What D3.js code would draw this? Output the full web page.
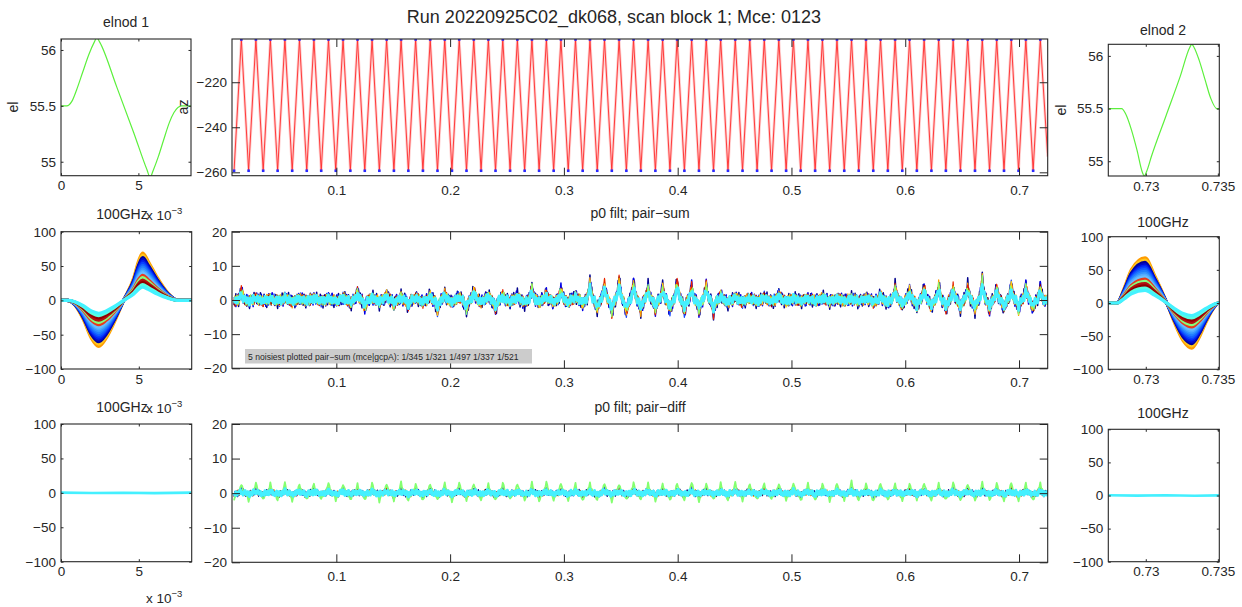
<!DOCTYPE html>
<html>
<head>
<meta charset="utf-8">
<script src="https://cdn.jsdelivr.net/npm/d3@7"></script>
<style>
  body { margin: 0; background: #fff; }
  svg text { font-family: "Liberation Sans", Arial, Helvetica, sans-serif; fill: #262626; }
</style>
</head>
<body>
<svg id="fig" width="1242" height="607"></svg>
<script>
// ---------------- data ----------------
const runTitle = "Run 20220925C02_dk068, scan block 1; Mce: 0123";
const noisiestText = "5 noisiest plotted pair\u2212sum (mce|gcpA):  1/345 1/321 1/497 1/337 1/521";

// elnod 1 (time in units of 1e-3) and elevation
const elnod1Time = [0, 0.37, 0.7, 1.0, 1.4, 1.8, 2.15, 2.31, 2.5, 3.6, 4.7, 5.55, 5.76, 5.95, 6.3, 6.62, 7.0, 7.3, 7.8, 8.4];
const elnod1El   = [55.5, 55.5, 55.54, 55.64, 55.80, 55.96, 56.07, 56.11, 56.07, 55.67, 55.26, 54.93, 54.86, 54.92, 55.05, 55.19, 55.35, 55.44, 55.5, 55.5];

// elnod 2
const elnod2Time = [0.7274, 0.72833, 0.7286, 0.7290, 0.7294, 0.72975, 0.72990, 0.73005, 0.7304, 0.7314, 0.7324, 0.73305, 0.73319, 0.73335, 0.7337, 0.7341, 0.7345, 0.73493, 0.7351];
const elnod2El   = [55.5, 55.5, 55.45, 55.3, 55.1, 54.9, 54.86, 54.9, 55.05, 55.43, 55.81, 56.08, 56.11, 56.08, 55.96, 55.78, 55.6, 55.5, 55.5];

// pair-sum elnod response of the strongest channel
const resp1Time  = [0, 0.4, 0.9, 1.44, 1.95, 2.43, 2.9, 3.4, 4.03, 4.68, 5.0, 5.25, 5.6, 6.19, 6.86, 7.5, 8.4];
const resp1Value = [0, 0, -7, -28, -55, -67, -55, -33, 0, 33, 58, 69, 57, 33, 11, 0, 0];
const resp2Time  = [0.7274, 0.7280, 0.7285, 0.7290, 0.72995, 0.7306, 0.73146, 0.7320, 0.7326, 0.73319, 0.7337, 0.7342, 0.7347, 0.73503, 0.7351];
const resp2Value = [0, 0, 22, 50, 68, 42, 0, -30, -57, -68, -52, -28, -8, 0, 0];
// relative elnod gain of each plotted channel
const respGain = [1.0, 0.95, 0.9, 0.86, 0.82, 0.78, 0.74, 0.7, 0.66, 0.62, 0.58, 0.53, 0.48, 0.43, 0.38, 0.33, 0.28];

// pair-diff elnod response (flat)
const dresp1Time  = [0, 2, 4, 6, 8.4];
const dresp1Value = [0.4, -0.3, 0.2, -0.4, 0.3];
const dresp2Time  = [0.7274, 0.7294, 0.7314, 0.7334, 0.7351];
const dresp2Value = [0.3, -0.2, 0.4, -0.3, 0.2];

// azimuth scan turnarounds
const azTopTime = [0.0165, 0.0293, 0.0420, 0.0548, 0.0676, 0.0803, 0.0931, 0.1059, 0.1186, 0.1314, 0.1442, 0.1569, 0.1697, 0.1825,
  0.1953, 0.2080, 0.2208, 0.2336, 0.2463, 0.2591, 0.2719, 0.2846, 0.2974, 0.3102, 0.3229, 0.3357, 0.3485, 0.3612, 0.3740,
  0.3868, 0.3995, 0.4123, 0.4251, 0.4378, 0.4506, 0.4634, 0.4761, 0.4889, 0.5017, 0.5145, 0.5272, 0.5400, 0.5528, 0.5655,
  0.5783, 0.5911, 0.6038, 0.6166, 0.6294, 0.6421, 0.6549, 0.6677, 0.6804, 0.6932, 0.7060, 0.7187];
const azBottomTime = [0.0101, 0.0229, 0.0357, 0.0484, 0.0612, 0.0740, 0.0867, 0.0995, 0.1123, 0.1250, 0.1378, 0.1506, 0.1633, 0.1761,
  0.1889, 0.2016, 0.2144, 0.2272, 0.2399, 0.2527, 0.2655, 0.2782, 0.2910, 0.3038, 0.3165, 0.3293, 0.3421, 0.3549, 0.3676,
  0.3804, 0.3932, 0.4059, 0.4187, 0.4315, 0.4442, 0.4570, 0.4698, 0.4825, 0.4953, 0.5081, 0.5208, 0.5336, 0.5464, 0.5591,
  0.5719, 0.5847, 0.5974, 0.6102, 0.6230, 0.6357, 0.6485, 0.6613, 0.6741, 0.6868, 0.6996, 0.7124];
const azHigh = -201.0, azLow = -259.3;
const azEndTime = 0.7252, azEndValue = -253;

// pair-sum scan-synchronous common mode at each turnaround
const sumPeak = [3.0, 0.8, 0.5, 0.8, 0.5, 1.0, 0.6, 0.8, 3.0, 1.0, 2.0, 1.0, 1.0, 1.5, 2.0, 1.2, 3.5, 1.5, 1.5, 1.5,
  4.0, 2.0, 3.5, 1.5, 6.0, 5.5, 7.0, 6.0, 4.3, 4.3, 6.5, 4.3, 5.0, 1.5, 1.2, 0.8, 1.2, 2.0, 0.6, 0.6,
  1.0, 0.5, 0.5, 0.8, 1.5, 4.5, 3.5, 4.5, 5.0, 4.0, 4.5, 7.0, 4.0, 5.0, 4.5, 4.0];
const sumTrough = [-0.5, -0.8, -0.5, -0.5, -0.8, -0.5, -0.5, -0.6, -1.5, -3.2, -1.0, -1.8, -2.2, -1.0, -4.0, -1.0, -4.0, -1.0, -3.5, -1.0,
  -1.5, -1.0, -1.0, -1.0, -1.2, -3.5, -4.5, -4.5, -3.8, -3.3, -4.2, -4.5, -3.8, -4.5, -1.2, -1.0, -0.8, -0.8, -1.0, -0.5,
  -0.6, -0.5, -0.5, -0.6, -1.0, -1.5, -2.2, -2.8, -3.2, -3.6, -3.2, -3.6, -3.6, -3.2, -3.6, -3.2];

// pair-diff scan-synchronous common mode at each turnaround
const diffPeak = [2.6, 3.0, 2.7, 2.9, 2.5, 2.8, 3.1, 2.7, 2.6, 2.9, 2.8, 3.0, 2.6, 2.7, 2.9, 3.1, 2.8, 2.6, 3.0, 2.7,
  2.9, 3.2, 2.8, 2.6, 2.9, 3.0, 2.7, 3.1, 2.8, 2.6, 2.9, 3.2, 2.7, 2.8, 3.0, 2.6, 2.9, 2.7, 3.1, 2.8,
  2.6, 3.0, 3.3, 2.7, 2.9, 2.6, 2.8, 3.0, 2.7, 3.1, 2.6, 2.9, 2.8, 3.0, 2.7, 2.9];
const diffTrough = [-2.0, -2.2, -1.9, -2.1, -2.3, -2.0, -1.8, -2.2, -2.1, -1.9, -2.3, -2.0, -2.2, -2.1, -1.9, -2.4, -2.0, -2.1, -2.2, -1.8,
  -2.1, -2.3, -2.0, -1.9, -2.2, -2.1, -2.4, -2.0, -1.9, -2.2, -2.1, -2.0, -2.3, -1.9, -2.1, -2.2, -2.0, -1.8, -2.1, -2.3,
  -2.0, -2.2, -1.9, -2.1, -2.4, -2.0, -2.1, -1.9, -2.2, -2.0, -2.3, -2.1, -1.9, -2.2, -2.0, -2.1];
// shape of the scan-synchronous bump around a turnaround, by sample offset
const bumpProfile = [1, 0.62, 0.3, 0.1, 0];

// per-channel common-mode gain, white-noise level and noise record
const sumGain  = [1.0, 0.9, 0.8, 0.85, 0.9, 0.75, 0.8, 0.8, 0.6];
const sumNoise = [2.2, 2.0, 1.8, 1.8, 1.7, 1.5, 1.6, 1.6, 1.3];
const diffGain  = [0.35, 0.3, 0.3, 0.25, 0.2, 1.0, 0.15];
const diffNoise = [1.0, 1.1, 0.9, 0.8, 0.8, 0.45, 0.85];
const noiseRecord = [
  [0.2, -0.6, 0.9, -0.3, 0.5, -1.0, 0.1, 0.7, -0.4, 0.3, -0.8, 0.6, -0.1, 0.4, -0.7, 0.8, -0.2, -0.9, 0.5, 0.0, 0.6, -0.5, 0.9, -0.3, 0.2, -0.7, 0.4, 0.1, -0.6, 1.0, -0.4],
  [-0.5, 0.3, -0.9, 0.6, 0.0, 0.8, -0.3, -0.7, 0.4, 1.0, -0.2, 0.5, -0.6, 0.2, 0.9, -0.4, 0.1, -0.8, 0.7, -0.1, 0.3, -1.0, 0.6, 0.2, -0.5, 0.8, -0.3, 0.4, -0.7, 0.0, 0.9, -0.6, 0.5],
  [0.7, -0.2, 0.4, -0.8, 0.9, -0.5, 0.2, -0.1, 0.6, -0.9, 0.3, 0.8, -0.6, 0.1, -0.4, 1.0, -0.7, 0.5, -0.3, 0.0, 0.8, -0.9, 0.2, 0.6, -0.5, 0.3, -0.8, 0.9, -0.2],
  [-0.3, 0.8, -0.6, 0.1, -0.9, 0.4, 0.7, -0.2, 0.5, -0.7, 1.0, -0.4, 0.2, -0.8, 0.6, 0.0, -0.5, 0.3, 0.9, -0.1, -0.7, 0.4, 0.8, -0.6, 0.2, -0.3, 0.5, -0.9, 0.7, 0.1, -0.4, 0.6, -0.8, 0.3, 0.0, -0.5, 0.9],
  [0.4, -0.9, 0.2, 0.6, -0.3, 0.8, -0.7, 0.0, 0.9, -0.5, 0.3, -0.2, 0.7, -0.8, 0.1, 0.5, -0.6, 1.0, -0.4, 0.2, -0.1, 0.6, -0.9, 0.3, 0.8, -0.3, -0.6, 0.4, 0.0, 0.7, -0.8],
  [-0.8, 0.5, 0.1, -0.4, 0.9, -0.2, 0.6, -0.7, 0.3, 0.8, -0.5, 0.0, -0.9, 0.4, 0.7, -0.3, 0.2, -0.6, 1.0, -0.1, 0.5, -0.8, 0.3, 0.6, -0.4, -0.2, 0.9, -0.7, 0.1],
  [0.6, 0.1, -0.7, 0.9, -0.4, 0.3, -0.9, 0.5, 0.0, -0.3, 0.8, -0.6, 0.2, 0.7, -0.8, 0.4, -0.1, -0.5, 1.0, -0.2, 0.3, -0.9, 0.6, 0.1, -0.4, 0.8, -0.7, 0.2, 0.5, -0.6, 0.0, 0.9, -0.3],
  [-0.2, 0.7, -0.5, 0.3, 0.8, -0.9, 0.1, 0.4, -0.6, 0.9, -0.1, -0.4, 0.6, -0.8, 0.2, 0.5, -0.7, 0.0, 1.0, -0.3, 0.4, -0.9, 0.7, -0.5, 0.1, 0.6, -0.2, -0.8, 0.3, 0.9, -0.6],
  [0.3, -0.4, 0.6, -0.7, 0.2, 0.5, -0.3, 0.8, -0.6, 0.1, -0.8, 0.4, 0.9, -0.2, -0.5, 0.7, 0.0, -0.9, 0.5, 0.3, -0.6, 1.0, -0.1, 0.4, -0.7, 0.2, 0.8, -0.4, -0.3, 0.6, -0.8, 0.1, 0.5, -0.5, 0.9]
];
const samplesPerHalfScan = 8;

// tick values
const elTicks = [55, 55.5, 56];
const azTicks = [-260, -240, -220];
const timeTicks = [0.1, 0.2, 0.3, 0.4, 0.5, 0.6, 0.7];
const elnod1Ticks = [0, 5];
const elnod2Ticks = [0.73, 0.735];
const respTicks = [-100, -50, 0, 50, 100];
const sumTicks = [-20, -10, 0, 10, 20];

// ---------------- styles ----------------
const respColor = ["#ff9c00", "#ffc81e", "#00009c", "#0008c8", "#0020f0", "#0840ff", "#1460ff", "#207cff",
                   "#3494ff", "#50aaff", "#68beff", "#e83a1c", "#84ff7c", "#b41010", "#900000", "#58ffe0", "#44f2ff"];
const sumColor  = ["#00008c", "#0000e8", "#1848ff", "#ff9c00", "#e82000", "#900000", "#ffcc10", "#84ff70", "#44f0ff"];
const sumWidth  = [1.5, 1.5, 1.4, 1.3, 1.2, 1.2, 1.2, 1.2, 2.8];
const diffColor = ["#ff9c00", "#00008c", "#1848ff", "#e82000", "#900000", "#84ff70", "#44f0ff"];
const diffWidth = [1.3, 1.3, 1.2, 1.1, 1.1, 1.8, 3.0];
const axisColor = "#262626";
const tickFont = 13.5, titleFont = 14;

// ---------------- layout ----------------
const box = {
  elnod1: { x0: 61,     x1: 191,    y0: 39,    y1: 175.7 },
  az:     { x0: 232,    x1: 1047.7, y0: 39,    y1: 175.7 },
  elnod2: { x0: 1108.3, x1: 1219.3, y0: 44.3,  y1: 176 },
  sumL:   { x0: 61,     x1: 191.7,  y0: 231.7, y1: 369 },
  sum:    { x0: 232,    x1: 1047.7, y0: 231.7, y1: 368.3 },
  sumR:   { x0: 1108.3, x1: 1219.3, y0: 236.7, y1: 369.3 },
  diffL:  { x0: 61,     x1: 191.7,  y0: 424,   y1: 561.7 },
  diff:   { x0: 232,    x1: 1047.7, y0: 424,   y1: 562.3 },
  diffR:  { x0: 1108.3, x1: 1219.3, y0: 429.3, y1: 561.7 }
};

const svg = d3.select("#fig");
svg.append("rect").attr("width", 1242).attr("height", 607).attr("fill", "#fff");
const defs = svg.append("defs");

function makePanel(name, xDomain, yDomain) {
  const b = box[name];
  const x = d3.scaleLinear().domain(xDomain).range([b.x0, b.x1]);
  const y = d3.scaleLinear().domain(yDomain).range([b.y1, b.y0]);
  defs.append("clipPath").attr("id", "clip-" + name)
    .append("rect").attr("x", b.x0).attr("y", b.y0).attr("width", b.x1 - b.x0).attr("height", b.y1 - b.y0);
  const g = svg.append("g");
  const plot = g.append("g").attr("clip-path", `url(#clip-${name})`);
  return { b, x, y, g, plot };
}

function drawAxes(p, o) {
  const { b, x, y, g } = p;
  const tl = o.tick;
  const ax = g.append("g").attr("color", axisColor);
  const style = sel => {
    sel.selectAll(".domain").remove();
    sel.selectAll("text").attr("font-size", tickFont).attr("font-family", null).attr("fill", axisColor);
    sel.selectAll("line").attr("stroke-width", 1);
  };
  ax.append("g").attr("transform", `translate(0,${b.y1})`)
    .call(d3.axisBottom(x).tickValues(o.xTicks).tickSize(-tl).tickPadding(o.xPad)
      .tickFormat(o.xLabels ? d3.format("") : () => ""))
    .call(style);
  ax.append("g").attr("transform", `translate(0,${b.y0})`)
    .call(d3.axisTop(x).tickValues(o.xTicks).tickSize(-tl).tickFormat(() => ""))
    .call(style);
  ax.append("g").attr("transform", `translate(${b.x0},0)`)
    .call(d3.axisLeft(y).tickValues(o.yTicks).tickSize(-tl).tickPadding(5).tickFormat(d3.format("")))
    .call(style);
  ax.append("g").attr("transform", `translate(${b.x1},0)`)
    .call(d3.axisRight(y).tickValues(o.yTicks).tickSize(-tl).tickFormat(() => ""))
    .call(style);
  ax.append("rect").attr("x", b.x0).attr("y", b.y0).attr("width", b.x1 - b.x0).attr("height", b.y1 - b.y0)
    .attr("fill", "none").attr("stroke", axisColor).attr("stroke-width", 1.1);
}

function title(txt, x, y, size) {
  svg.append("text").attr("x", x).attr("y", y).attr("text-anchor", "middle")
    .attr("font-size", size || titleFont).text(txt);
}
function yLabel(txt, x, y) {
  svg.append("text").attr("transform", `translate(${x},${y}) rotate(-90)`)
    .attr("text-anchor", "middle").attr("font-size", titleFont).text(txt);
}
function expLabel(x, y) {
  const t = svg.append("text").attr("x", x).attr("y", y).attr("font-size", tickFont);
  t.append("tspan").text("x 10");
  t.append("tspan").attr("dy", -6).attr("font-size", 9.5).text("\u22123");
}

const line = (p, curve) => d3.line().x(d => p.x(d[0])).y(d => p.y(d[1])).curve(curve || d3.curveLinear);
const zip = (a, b) => a.map((v, i) => [v, b[i]]);

// time-ordered list of turnarounds: bottom, top, bottom, top, ...
const turns = [];
turns.push({ t: azBottomTime[0], top: false, i: 0 });
azTopTime.forEach((t, k) => {
  turns.push({ t, top: true, i: k });
  if (k + 1 < azBottomTime.length) turns.push({ t: azBottomTime[k + 1], top: false, i: k + 1 });
});

// ---------------- row 1 ----------------
const pE1 = makePanel("elnod1", [0, 8.4], [54.875, 56.098]);
pE1.plot.append("path").attr("d", line(pE1, d3.curveMonotoneX)(zip(elnod1Time, elnod1El)))
  .attr("fill", "none").attr("stroke", "#5cf03c").attr("stroke-width", 1.2);
drawAxes(pE1, { xTicks: elnod1Ticks, yTicks: elTicks, tick: 2.5, xLabels: true, xPad: 5 });

const pAz = makePanel("az", [0.0083, 0.7252], [-261.5, -200.8]);
const azPts = turns.map(s => [s.t, s.top ? azHigh : azLow]);
azPts.push([azEndTime, azEndValue]);
pAz.plot.append("path").attr("d", line(pAz)(azPts))
  .attr("fill", "none").attr("stroke", "#ff7a7a").attr("stroke-opacity", 0.35).attr("stroke-width", 2.8);
pAz.plot.append("path").attr("d", line(pAz)(azPts))
  .attr("fill", "none").attr("stroke", "#ff2a2a").attr("stroke-width", 0.9);
pAz.plot.selectAll("rect.turn").data(turns).join("rect")
  .attr("x", d => pAz.x(d.t) - 1.3).attr("y", d => pAz.y(d.top ? azHigh : azLow) - 1.3)
  .attr("width", 2.6).attr("height", 2.6).attr("fill", "#2a2aff");
drawAxes(pAz, { xTicks: timeTicks, yTicks: azTicks, tick: 8, xLabels: true, xPad: 10 });

const pE2 = makePanel("elnod2", [0.7274, 0.7351], [54.86, 56.11]);
pE2.plot.append("path").attr("d", line(pE2, d3.curveMonotoneX)(zip(elnod2Time, elnod2El)))
  .attr("fill", "none").attr("stroke", "#5cf03c").attr("stroke-width", 1.2);
drawAxes(pE2, { xTicks: elnod2Ticks, yTicks: elTicks, tick: 2.5, xLabels: true, xPad: 5 });

// ---------------- row 2 ----------------
const pSL = makePanel("sumL", [0, 8.4], [-100, 100]);
respGain.forEach((gn, c) => {
  pSL.plot.append("path").attr("d", line(pSL, d3.curveMonotoneX)(zip(resp1Time, resp1Value.map(v => v * gn))))
    .attr("fill", "none").attr("stroke", respColor[c]).attr("stroke-width", 3.2);
});
drawAxes(pSL, { xTicks: elnod1Ticks, yTicks: respTicks, tick: 2.5, xLabels: true, xPad: 5 });

// one channel's timestream: scan-synchronous bumps at the turnarounds plus its noise record
function noisyTrace(peak, trough, gain, noise, rec) {
  const pts = [];
  const n = samplesPerHalfScan;
  let k = 0;
  const cmAt = s => (s.top ? peak[s.i] : trough[s.i]);
  turns.forEach((s, idx) => {
    const nx = turns[idx + 1];
    const tNext = nx ? nx.t : azEndTime;
    for (let j = 0; j < n; j++) {
      let v = gain * cmAt(s) * (bumpProfile[j] || 0);
      if (nx) v += gain * cmAt(nx) * (bumpProfile[n - j] || 0);
      v += noise * rec[k++ % rec.length];
      pts.push([s.t + (tNext - s.t) * j / n, v]);
    }
  });
  pts.push([azEndTime, noise * rec[k % rec.length]]);
  return pts;
}

const pS = makePanel("sum", [0.0083, 0.7252], [-20, 20]);
sumGain.forEach((gn, c) => {
  pS.plot.append("path").attr("d", line(pS)(noisyTrace(sumPeak, sumTrough, gn, sumNoise[c], noiseRecord[c])))
    .attr("fill", "none").attr("stroke", sumColor[c]).attr("stroke-width", sumWidth[c]).attr("stroke-linejoin", "round");
});
drawAxes(pS, { xTicks: timeTicks, yTicks: sumTicks, tick: 8, xLabels: true, xPad: 9 });
svg.append("rect").attr("x", 245).attr("y", 349).attr("width", 287).attr("height", 14.5).attr("fill", "#cccccc");
svg.append("text").attr("x", 248).attr("y", 359.5).attr("font-size", 8.6).attr("fill", "#111").text(noisiestText);

const pSR = makePanel("sumR", [0.7274, 0.7351], [-100, 100]);
respGain.forEach((gn, c) => {
  pSR.plot.append("path").attr("d", line(pSR, d3.curveMonotoneX)(zip(resp2Time, resp2Value.map(v => v * gn))))
    .attr("fill", "none").attr("stroke", respColor[c]).attr("stroke-width", 3.2);
});
drawAxes(pSR, { xTicks: elnod2Ticks, yTicks: respTicks, tick: 2.5, xLabels: true, xPad: 5 });

// ---------------- row 3 ----------------
const pDL = makePanel("diffL", [0, 8.4], [-100, 100]);
pDL.plot.append("path").attr("d", line(pDL)(zip(dresp1Time, dresp1Value)))
  .attr("fill", "none").attr("stroke", "#44f0ff").attr("stroke-width", 2.6);
drawAxes(pDL, { xTicks: elnod1Ticks, yTicks: respTicks, tick: 2.5, xLabels: true, xPad: 5 });

const pD = makePanel("diff", [0.0083, 0.7252], [-20, 20]);
diffGain.forEach((gn, c) => {
  pD.plot.append("path").attr("d", line(pD)(noisyTrace(diffPeak, diffTrough, gn, diffNoise[c], noiseRecord[c + 2])))
    .attr("fill", "none").attr("stroke", diffColor[c]).attr("stroke-width", diffWidth[c]).attr("stroke-linejoin", "round");
});
drawAxes(pD, { xTicks: timeTicks, yTicks: sumTicks, tick: 8, xLabels: true, xPad: 9 });

const pDR = makePanel("diffR", [0.7274, 0.7351], [-100, 100]);
pDR.plot.append("path").attr("d", line(pDR)(zip(dresp2Time, dresp2Value)))
  .attr("fill", "none").attr("stroke", "#44f0ff").attr("stroke-width", 2.6);
drawAxes(pDR, { xTicks: elnod2Ticks, yTicks: respTicks, tick: 2.5, xLabels: true, xPad: 5 });

// ---------------- titles and labels ----------------
title(runTitle, 614, 22.5, 18);
title("elnod 1", 126, 27);
title("elnod 2", 1163, 35);
title("100GHz", 122, 219);
title("p0 filt; pair\u2212sum", 640, 218);
title("100GHz", 1163, 227);
title("100GHz", 122, 412);
title("p0 filt; pair\u2212diff", 640, 412);
title("100GHz", 1163, 418);
yLabel("el", 18, 107);
yLabel("az", 188, 107);
yLabel("el", 1066, 110);
expLabel(146, 220);
expLabel(146, 413);
expLabel(146, 603);
</script>
</body>
</html>
